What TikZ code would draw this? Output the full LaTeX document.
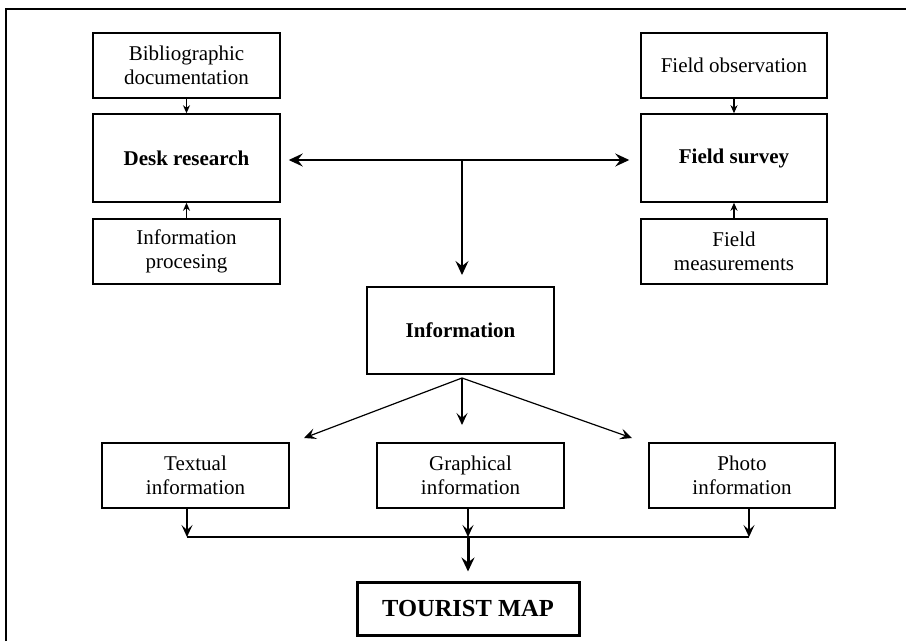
\documentclass[tikz,border=0pt]{standalone}
\usepackage{fontspec}
\setmainfont{Liberation Serif}
\usetikzlibrary{arrows.meta,calc}
\begin{document}
\begin{tikzpicture}[x=1pt,y=-1pt,
  box/.style={draw,line width=1.5pt,inner sep=0pt,align=center,
    font=\fontsize{21}{23.5}\selectfont,minimum width=187pt},
  smallbox/.style={box,minimum height=65pt},
  bigbox/.style={box,minimum height=88pt},
  conn/.style={line width=1.2pt},
  bigtip/.style={-{Stealth[length=12pt,width=11pt,inset=5pt]}},
  smalltip/.style={-{Stealth[length=8pt,width=7pt,inset=2.5pt]}}]
\useasboundingbox (0,0) rectangle (906,641);
\draw[line width=2.5pt] (6,641) -- (6,9) -- (906,9);
% top left column
\node[smallbox] (bib) at (186.5,65.5) {Bibliographic\\documentation};
\node[bigbox,font=\fontsize{21}{23.5}\selectfont\bfseries] (desk) at (186.5,158) {Desk research};
\node[smallbox] (proc) at (186.5,251.5) {Information\\procesing};
% top right column
\node[smallbox,minimum width=186pt] (fobs) at (734,65.5) {Field observation};
\node[bigbox,minimum width=186pt,font=\fontsize{21}{23.5}\selectfont\bfseries] (fsur) at (734,158) {Field survey};
\node[smallbox,minimum width=186pt] (fmeas) at (734,251.5) {Field\\measurements};
% middle
\node[box,minimum height=87pt,font=\fontsize{21}{23.5}\selectfont\bfseries] (info) at (460.5,330.5) {Information};
% bottom row
\node[smallbox] (text) at (195.5,475.5) {Textual\\information};
\node[smallbox] (graph) at (470.5,475.5) {Graphical\\information};
\node[smallbox,minimum width=186pt] (photo) at (742,475.5) {Photo\\information};
\node[draw,line width=3pt,minimum width=222pt,minimum height=53pt,inner sep=0pt,
  font=\fontsize{24.5}{27}\selectfont\bfseries] (tour) at (468,608.5) {TOURIST MAP};
% coordinates
\coordinate (T) at (462,160);
\coordinate (F) at (462,378);
\coordinate (tl) at (304,438);
\coordinate (tm) at (462,425);
\coordinate (tr) at (632,438);
\coordinate (b1) at (187,537);
\coordinate (b2) at (468,537);
\coordinate (b3) at (749,537);
% connectors
\draw[conn,smalltip] (bib) -- (desk);
\draw[conn,smalltip] (proc) -- (desk);
\draw[conn,smalltip] (fobs) -- (fsur);
\draw[conn,smalltip] (fmeas) -- (fsur);
\draw[conn,{Stealth[length=14pt,width=13pt,inset=5pt]}-{Stealth[length=14pt,width=13pt,inset=5pt]},
  shorten <=8pt,shorten >=11pt] (desk.east |- T) -- (fsur.west |- T);
\draw[conn,-{Stealth[length=14pt,width=13pt,inset=5pt]}] (T) -- (tm |- 0,275);
\draw[conn,bigtip] (F) -- (tl);
\draw[conn,bigtip] (F) -- (tm);
\draw[conn,bigtip] (F) -- (tr);
\draw[conn,bigtip] (b1 |- text.south) -- (b1);
\draw[conn,bigtip] (b2 |- graph.south) -- (b2);
\draw[conn,bigtip] (b3 |- photo.south) -- (b3);
\draw[line width=2.2pt] (b1) -- (b3);
\draw[line width=3pt,-{Stealth[length=14pt,width=13pt,inset=5pt]},shorten >=9pt] (b2) -- (tour.north);
\end{tikzpicture}
\end{document}
